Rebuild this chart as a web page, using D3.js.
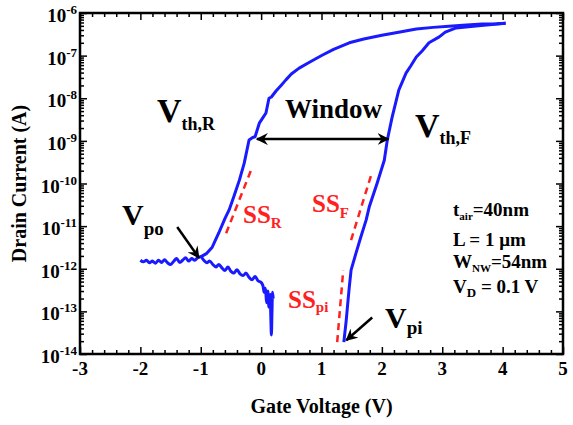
<!DOCTYPE html>
<html>
<head>
<meta charset="utf-8">
<title>Drain current vs gate voltage</title>
<style>
  body { margin: 0; background: #fff; }
  text { font-family: "Liberation Serif", "Times New Roman", serif; font-weight: bold; }
</style>
</head>
<body>
<script src="https://d3js.org/d3.v7.min.js"></script>
<script>
// ---- data ----
const xTicks = [-3, -2, -1, 0, 1, 2, 3, 4, 5];
const yExps = [-6, -7, -8, -9, -10, -11, -12, -13, -14];

// noisy off-state leg, -2 V up to the noise-floor spikes near 0.2 V
const noiseV = [-2.00, -1.95, -1.90, -1.85, -1.80, -1.75, -1.70, -1.65, -1.60, -1.55, -1.50, -1.45, -1.40, -1.35, -1.30,
  -1.25, -1.20, -1.15, -1.10, -1.05, -1.00, -0.95, -0.90, -0.85, -0.80, -0.75, -0.70, -0.65, -0.60, -0.55,
  -0.50, -0.45, -0.40, -0.35, -0.30, -0.25, -0.20, -0.15, -0.10, -0.05, 0.00, 0.03, 0.05, 0.07, 0.09,
  0.11, 0.13, 0.15, 0.16, 0.17, 0.18, 0.19, 0.20];
const noiseI = [1.58e-12, 1.45e-12, 1.58e-12, 1.38e-12, 1.51e-12, 1.35e-12, 1.58e-12, 1.41e-12, 1.62e-12, 1.38e-12, 1.26e-12, 1.48e-12, 1.74e-12, 1.41e-12, 1.58e-12,
  1.82e-12, 1.51e-12, 1.74e-12, 1.58e-12, 1.82e-12, 1.91e-12, 1.58e-12, 1.38e-12, 1.51e-12, 1.26e-12, 1.10e-12, 1.26e-12, 1.05e-12, 9.1e-13, 1.10e-12,
  8.7e-13, 7.9e-13, 9.5e-13, 7.6e-13, 6.9e-13, 7.9e-13, 6.3e-13, 5.5e-13, 6.6e-13, 5.2e-13, 4.8e-13, 4.0e-13, 2.8e-13, 3.5e-13, 1.6e-13,
  3.0e-13, 1.26e-13, 2.5e-13, 7.9e-14, 2.8e-14, 1.0e-13, 2.8e-13, 2.0e-13];

// reverse sweep branch rising from Vpo to 4 V
const riseV = [-1.00, -0.90, -0.81, -0.70, -0.60, -0.53, -0.45, -0.36, -0.28, -0.20, -0.14, -0.10, -0.06, -0.03, 0.03,
  0.08, 0.13, 0.17, 0.25, 0.33, 0.41, 0.50, 0.63, 0.80, 1.01, 1.20, 1.46, 1.70, 2.00, 2.30, 2.57, 2.85, 3.11, 3.40, 3.66, 3.90, 4.05];
const riseI = [1.9e-12, 2.3e-12, 3.2e-12, 7e-12, 1.5e-11, 2.4e-11, 5e-11, 1.2e-10, 3e-10, 1.05e-9, 1.2e-9, 1.25e-9, 1.9e-9, 2.6e-9, 3.5e-9,
  4.5e-9, 1.0e-8, 1.07e-8, 1.5e-8, 2.0e-8, 2.7e-8, 3.7e-8, 5.1e-8, 7.0e-8, 1.02e-7, 1.4e-7, 2.0e-7, 2.45e-7, 3.0e-7, 3.6e-7, 4.2e-7, 4.6e-7, 4.9e-7, 5.2e-7, 5.5e-7, 5.6e-7, 5.75e-7];

// forward sweep branch falling from 4 V down to Vpi
const fallV = [4.05, 3.60, 3.23, 3.05, 2.95, 2.78, 2.67, 2.57, 2.48, 2.40, 2.28, 2.17, 2.09, 2.04, 1.92,
  1.79, 1.74, 1.65, 1.57, 1.49, 1.46, 1.43, 1.41, 1.37];
const fallI = [5.75e-7, 5.0e-7, 4.47e-7, 3.55e-7, 2.75e-7, 2.0e-7, 1.3e-7, 9.3e-8, 5.8e-8, 3.9e-8, 1.55e-8, 3.6e-9, 1.05e-9, 3.5e-10, 1.0e-10,
  2.8e-11, 1.4e-11, 5.5e-12, 2.3e-12, 9.3e-13, 3.7e-13, 1.3e-13, 6.2e-14, 1.9e-14];

// subthreshold-slope guide lines (red dashed)
const ssRV = [-0.58, -0.17], ssRI = [6.8e-12, 2.0e-10];
const ssFV = [1.49, 1.84], ssFI = [4.7e-12, 1.9e-10];
const ssPiV = [1.26, 1.36], ssPiI = [1.9e-14, 9.3e-13];

// arrows: [V0, I0, V1, I1]
const windowArrow = [-0.07, 1.1e-9, 2.11, 1.1e-9];
const vpoArrow = [-1.39, 9.5e-12, -1.03, 1.8e-12];
const vpiArrow = [1.84, 7.2e-14, 1.41, 2.1e-14];

// ---- layout ----
const W = 573, H = 425;
const mLeft = 80, mRight = 563, mTop = 13, mBottom = 354;

const svg = d3.select("body").append("svg")
  .attr("width", W).attr("height", H);

const x = d3.scaleLinear().domain([-3, 5]).range([mLeft, mRight]);
const y = d3.scaleLog().domain([1e-14, 1e-6]).range([mBottom, mTop]);

const xMinor = d3.range(-3, 5.001, 0.2).map(v => +v.toFixed(1)).filter(v => !xTicks.includes(v));
const yMajor = yExps.map(e => Math.pow(10, e));
const yMinor = [];
yExps.slice(1).forEach(e => { for (let m = 2; m <= 9; m++) yMinor.push(m * Math.pow(10, e)); });

function tickAxis(axis, values, size, transform) {
  const g = svg.append("g")
    .attr("transform", transform)
    .call(axis.tickValues(values).tickSize(size).tickFormat(""));
  g.select(".domain").remove();
  g.selectAll("line").attr("stroke", "#000").attr("stroke-width", 1.5);
  return g;
}

// ticks point inward on all four sides
tickAxis(d3.axisBottom(x), xTicks, -7, `translate(0,${mBottom})`);
tickAxis(d3.axisBottom(x), xMinor, -4, `translate(0,${mBottom})`);
tickAxis(d3.axisTop(x), xTicks, -7, `translate(0,${mTop})`);
tickAxis(d3.axisTop(x), xMinor, -4, `translate(0,${mTop})`);
tickAxis(d3.axisLeft(y), yMajor, -7, `translate(${mLeft},0)`);
tickAxis(d3.axisLeft(y), yMinor, -4, `translate(${mLeft},0)`);
tickAxis(d3.axisRight(y), yMajor, -7, `translate(${mRight},0)`);
tickAxis(d3.axisRight(y), yMinor, -4, `translate(${mRight},0)`);

// frame
svg.append("rect")
  .attr("x", mLeft).attr("y", mTop)
  .attr("width", mRight - mLeft).attr("height", mBottom - mTop)
  .attr("fill", "none").attr("stroke", "#000").attr("stroke-width", 2.5);

// tick labels
svg.selectAll(".xlab").data(xTicks).enter().append("text")
  .attr("x", d => x(d)).attr("y", 375)
  .attr("text-anchor", "middle")
  .style("font-size", "19px")
  .text(d => d);

const yl = svg.selectAll(".ylab").data(yExps).enter().append("text")
  .attr("x", 77).attr("y", d => y(Math.pow(10, d)) + 9)
  .attr("text-anchor", "end")
  .style("font-size", "19px");
yl.append("tspan").text("10");
yl.append("tspan").attr("dy", -8).style("font-size", "13px").text(d => "-" + (-d));

// axis titles
svg.append("text")
  .attr("x", (mLeft + mRight) / 2).attr("y", 413)
  .attr("text-anchor", "middle")
  .style("font-size", "20px")
  .text("Gate Voltage (V)");

svg.append("text")
  .attr("transform", `translate(26,${(mTop + mBottom) / 2}) rotate(-90)`)
  .attr("text-anchor", "middle")
  .style("font-size", "20px")
  .text("Drain Current (A)");

// curves
const line = d3.line().x(d => x(d[0])).y(d => y(d[1]));
const smoothLine = d3.line().x(d => x(d[0])).y(d => y(d[1])).curve(d3.curveCatmullRom.alpha(0.5));

[[noiseV, noiseI, smoothLine], [riseV, riseI, line], [fallV, fallI, line]].forEach(s => {
  svg.append("path")
    .datum(d3.zip(s[0], s[1]))
    .attr("fill", "none")
    .attr("stroke", "#1a1aff")
    .attr("stroke-width", 3)
    .attr("stroke-linejoin", "round")
    .attr("d", s[2]);
});

[[ssRV, ssRI], [ssFV, ssFI], [ssPiV, ssPiI]].forEach(s => {
  svg.append("path")
    .datum(d3.zip(s[0], s[1]))
    .attr("fill", "none")
    .attr("stroke", "#ff2020")
    .attr("stroke-width", 2.5)
    .attr("stroke-dasharray", "7,5")
    .attr("d", line);
});

// arrow heads
svg.append("defs").append("marker")
  .attr("id", "head")
  .attr("viewBox", "0 0 12 12")
  .attr("refX", 11).attr("refY", 6)
  .attr("markerWidth", 12).attr("markerHeight", 12)
  .attr("markerUnits", "userSpaceOnUse")
  .attr("orient", "auto-start-reverse")
  .append("path")
  .attr("d", "M0,0 L12,6 L0,12 L4,6 Z")
  .attr("fill", "#000");

function arrow(a, both) {
  const p = svg.append("line")
    .attr("x1", x(a[0])).attr("y1", y(a[1]))
    .attr("x2", x(a[2])).attr("y2", y(a[3]))
    .attr("stroke", "#000").attr("stroke-width", 2.5)
    .attr("marker-end", "url(#head)");
  if (both) p.attr("marker-start", "url(#head)");
}
arrow(windowArrow, true);
arrow(vpoArrow, false);
arrow(vpiArrow, false);

// annotations
function subText(px, py, main, sub, size, subSize, dy, color, rest) {
  const t = svg.append("text")
    .attr("x", px).attr("y", py)
    .attr("fill", color)
    .style("font-size", size + "px");
  t.append("tspan").text(main);
  t.append("tspan").attr("dy", dy).style("font-size", subSize + "px").text(sub);
  if (rest) t.append("tspan").attr("dy", -dy).text(rest);
}

subText(157, 122, "V", "th,R", 34, 18, 8, "#000");
subText(415, 137, "V", "th,F", 34, 18, 7, "#000");
subText(122, 225, "V", "po", 30, 19, 10, "#000");
subText(385, 328, "V", "pi", 30, 19, 6, "#000");

svg.append("text")
  .attr("x", 285).attr("y", 118)
  .style("font-size", "27px")
  .text("Window");

subText(243, 223, "SS", "R", 25, 15, 5, "#ff2020");
subText(312, 212, "SS", "F", 25, 15, 6, "#ff2020");
subText(288, 308, "SS", "pi", 25, 15, 4, "#ff2020");

subText(453, 216, "t", "air", 19, 11, 4, "#000", "=40nm");
svg.append("text").attr("x", 453).attr("y", 246).style("font-size", "19px").text("L = 1 \u03bcm");
subText(453, 268, "W", "NW", 19, 11, 4, "#000", "=54nm");
subText(453, 293, "V", "D", 19, 13, 4, "#000", " = 0.1 V");
</script>
</body>
</html>
